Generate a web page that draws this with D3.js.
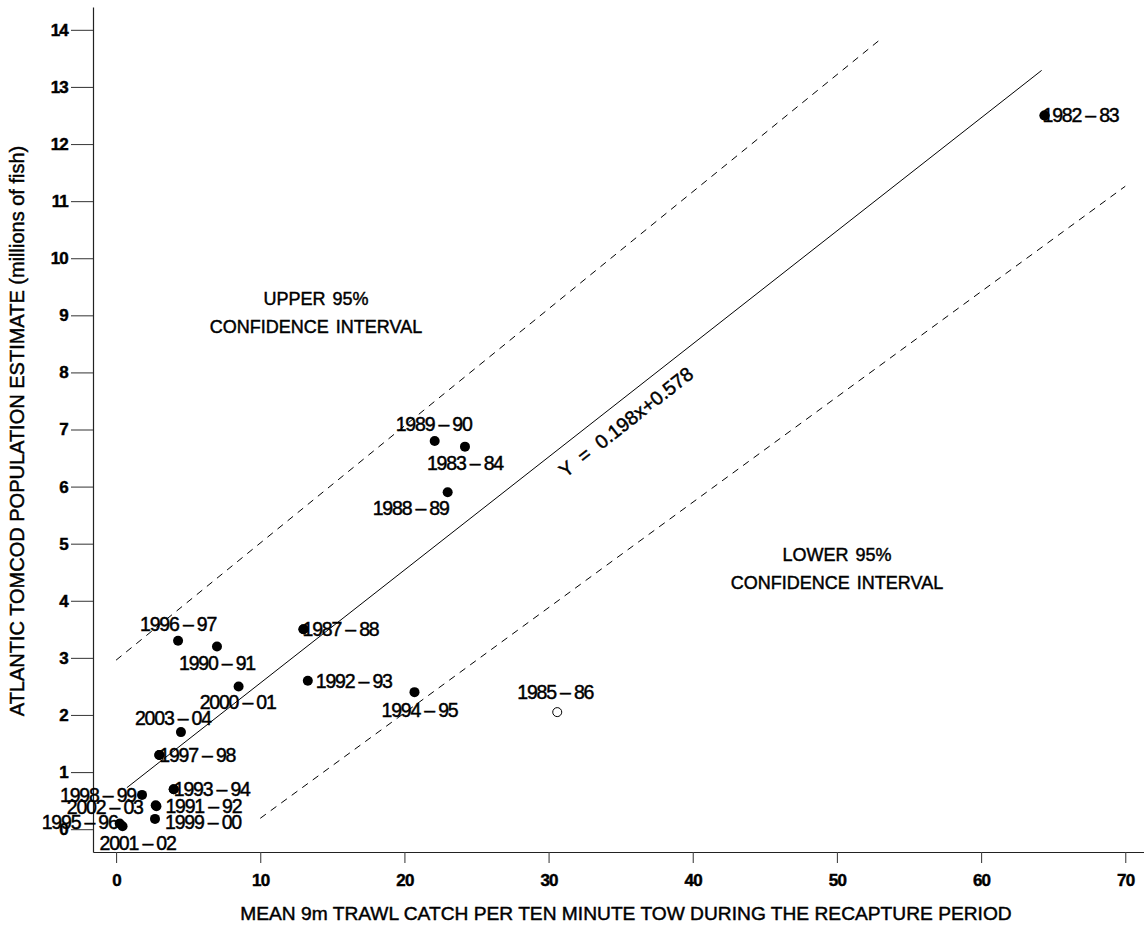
<!DOCTYPE html>
<html>
<head>
<meta charset="utf-8">
<script src="https://cdn.jsdelivr.net/npm/d3@7/dist/d3.min.js"></script>
<style>
  html, body { margin: 0; padding: 0; background: #fff; }
  svg { display: block; font-family: "Liberation Sans", Arial, Helvetica, sans-serif; }
  .ink { stroke: #000; stroke-width: 0.45px; paint-order: stroke; }
</style>
</head>
<body>
<svg id="chart" width="1144" height="926"></svg>
<script>
// Survey seasons, mean 9 m trawl catch per 10-minute tow, and population estimate (millions)
const seasons = [
  "1982 – 83", "1983 – 84", "1985 – 86", "1987 – 88", "1988 – 89",
  "1989 – 90", "1990 – 91", "1991 – 92", "1992 – 93", "1993 – 94",
  "1994 – 95", "1995 – 96", "1996 – 97", "1997 – 98", "1998 – 99",
  "1999 – 00", "2000 – 01", "2001 – 02", "2002 – 03", "2003 – 04"
];
const catchPerTow = [
  64.4, 24.2, 30.6, 13.0, 23.0,
  22.1, 7.0, 2.8, 13.3, 4.0,
  20.7, 0.25, 4.3, 3.0, 1.8,
  2.7, 8.5, 0.45, 2.75, 4.5
];
const population = [
  12.5, 6.7, 2.05, 3.5, 5.9,
  6.8, 3.2, 0.4, 2.6, 0.7,
  2.4, 0.1, 3.3, 1.3, 0.6,
  0.18, 2.5, 0.05, 0.42, 1.7
];
// Season left out of the regression (open marker)
const excludedSeasons = ["1985 – 86"];

// Regression fit and its 95% confidence limits
const fitSlope = 0.198;
const fitIntercept = 0.578;
const fitXRange = [0.75, 64.2];
const upperLimitX = [0, 53];
const upperLimitY = [2.96, 13.83];
const lowerLimitX = [10, 70];
const lowerLimitY = [0.19, 11.26];

const xTicks = [0, 10, 20, 30, 40, 50, 60, 70];
const yTicks = [0, 1, 2, 3, 4, 5, 6, 7, 8, 9, 10, 11, 12, 13, 14];

// Where each season label sits relative to its marker: [anchor, dx, dy]
const labelPlacement = {
  "1982 – 83": ["start", -2, 0],
  "1983 – 84": ["middle", 0, 16],
  "1985 – 86": ["middle", -2, -20],
  "1987 – 88": ["start", -1, 0],
  "1988 – 89": ["end", 1, 16],
  "1989 – 90": ["middle", -1, -17],
  "1990 – 91": ["middle", 0, 17],
  "1991 – 92": ["start", 9, 0],
  "1992 – 93": ["start", 8, 0],
  "1993 – 94": ["start", 0, 0],
  "1994 – 95": ["middle", 5, 18],
  "1995 – 96": ["end", -2, -1],
  "1996 – 97": ["middle", 0, -17],
  "1997 – 98": ["start", 0, 0],
  "1998 – 99": ["end", -6, 0],
  "1999 – 00": ["start", 10, 3],
  "2000 – 01": ["middle", -1, 16],
  "2001 – 02": ["middle", 15, 17],
  "2002 – 03": ["end", -13, 2],
  "2003 – 04": ["middle", -8, -14]
};

const svg = d3.select("#chart");

const x = d3.scaleLinear().domain([-1.6, 71.3]).range([93, 1144]);
const y = d3.scaleLinear().domain([-0.4, 14.4]).range([852, 7]);

// Axes
const xAxis = svg.append("g")
  .attr("transform", `translate(0,${y(-0.4)})`)
  .call(d3.axisBottom(x).tickValues(xTicks).tickSize(11).tickSizeOuter(0).tickPadding(11));
const yAxis = svg.append("g")
  .attr("transform", `translate(${x(-1.6)},0)`)
  .call(d3.axisLeft(y).tickValues(yTicks).tickSize(22).tickSizeOuter(0).tickPadding(3));

[xAxis, yAxis].forEach(g => {
  g.select(".domain").attr("stroke", "#222").attr("stroke-width", 1.2);
  g.selectAll(".tick line").attr("stroke", "#444").attr("stroke-width", 1.1);
  g.selectAll(".tick text")
    .attr("fill", "#000")
    .attr("class", "ink")
    .style("font-family", "'Liberation Sans', Arial, sans-serif")
    .style("font-size", "17px")
    .style("font-weight", "bold")
    .style("letter-spacing", "-0.8px");
});

// Axis titles
svg.append("text")
  .attr("class", "ink")
  .attr("x", 626).attr("y", 913).attr("dy", "0.35em")
  .attr("text-anchor", "middle")
  .style("font-size", "19.2px")
  .text("MEAN 9m TRAWL CATCH PER TEN MINUTE TOW DURING THE RECAPTURE PERIOD");

svg.append("text")
  .attr("class", "ink")
  .attr("transform", "translate(17,431) rotate(-90)")
  .attr("dy", "0.35em")
  .attr("text-anchor", "middle")
  .style("font-size", "20px")
  .text("ATLANTIC TOMCOD POPULATION ESTIMATE (millions of fish)");

// Confidence limits (dashed) and fitted line (solid)
const line = d3.line().x(d => x(d[0])).y(d => y(d[1]));
const upperPts = upperLimitX.map((v, i) => [v, upperLimitY[i]]);
const lowerPts = lowerLimitX.map((v, i) => [v, lowerLimitY[i]]);
const fitPts = fitXRange.map(v => [v, fitSlope * v + fitIntercept]);

svg.append("path").datum(upperPts).attr("d", line)
  .attr("fill", "none").attr("stroke", "#000").attr("stroke-width", 1)
  .attr("stroke-dasharray", "7,6");
svg.append("path").datum(lowerPts).attr("d", line)
  .attr("fill", "none").attr("stroke", "#000").attr("stroke-width", 1)
  .attr("stroke-dasharray", "7,6");
svg.append("path").datum(fitPts).attr("d", line)
  .attr("fill", "none").attr("stroke", "#000").attr("stroke-width", 1);

// Equation written along the fitted line
const pxSlope = (y(fitSlope * 10 + fitIntercept) - y(fitIntercept)) / (x(10) - x(0));
const angle = Math.atan(pxSlope) * 180 / Math.PI;
const eqX = 34.5;
svg.append("text")
  .attr("class", "ink")
  .attr("transform", `translate(${x(eqX)},${y(fitSlope * eqX + fitIntercept)}) rotate(${angle})`)
  .attr("y", 27)
  .attr("text-anchor", "middle")
  .style("font-size", "19.5px")
  .style("white-space", "pre")
  .text(`Y  =  ${fitSlope}x+${fitIntercept}`);

// Region captions
const captions = [
  { lines: ["UPPER 95%", "CONFIDENCE INTERVAL"], cx: 316, cy: 299 },
  { lines: ["LOWER 95%", "CONFIDENCE INTERVAL"], cx: 837, cy: 555 }
];
captions.forEach(c => {
  c.lines.forEach((t, i) => {
    svg.append("text")
      .attr("class", "ink")
      .attr("x", c.cx).attr("y", c.cy + i * 28).attr("dy", "0.35em")
      .attr("text-anchor", "middle")
      .style("font-size", "18px")
      .style("word-spacing", "2px")
      .text(t);
  });
});

// Season markers and labels
const points = seasons.map((s, i) => ({
  season: s, cx: catchPerTow[i], pop: population[i],
  open: excludedSeasons.includes(s)
}));

svg.append("g").selectAll("circle")
  .data(points)
  .join("circle")
  .attr("cx", d => x(d.cx))
  .attr("cy", d => y(d.pop))
  .attr("r", d => d.open ? 4.5 : 5)
  .attr("fill", d => d.open ? "#fff" : "#000")
  .attr("stroke", "#000")
  .attr("stroke-width", d => d.open ? 1 : 0);

svg.append("g").selectAll("text")
  .data(points)
  .join("text")
  .attr("class", "ink")
  .attr("x", d => x(d.cx) + labelPlacement[d.season][1])
  .attr("y", d => y(d.pop) + labelPlacement[d.season][2])
  .attr("dy", "0.36em")
  .attr("text-anchor", d => labelPlacement[d.season][0])
  .style("font-size", "19.5px")
  .style("letter-spacing", "-1.2px")
  .text(d => d.season);

// Markers sitting on their own labels are drawn over the text
svg.append("g").selectAll("circle")
  .data(points.filter(d => labelPlacement[d.season][1] <= 0 && labelPlacement[d.season][2] === 0 && labelPlacement[d.season][0] === "start"))
  .join("circle")
  .attr("cx", d => x(d.cx))
  .attr("cy", d => y(d.pop))
  .attr("r", 5)
  .attr("fill", "#000");
</script>
</body>
</html>
